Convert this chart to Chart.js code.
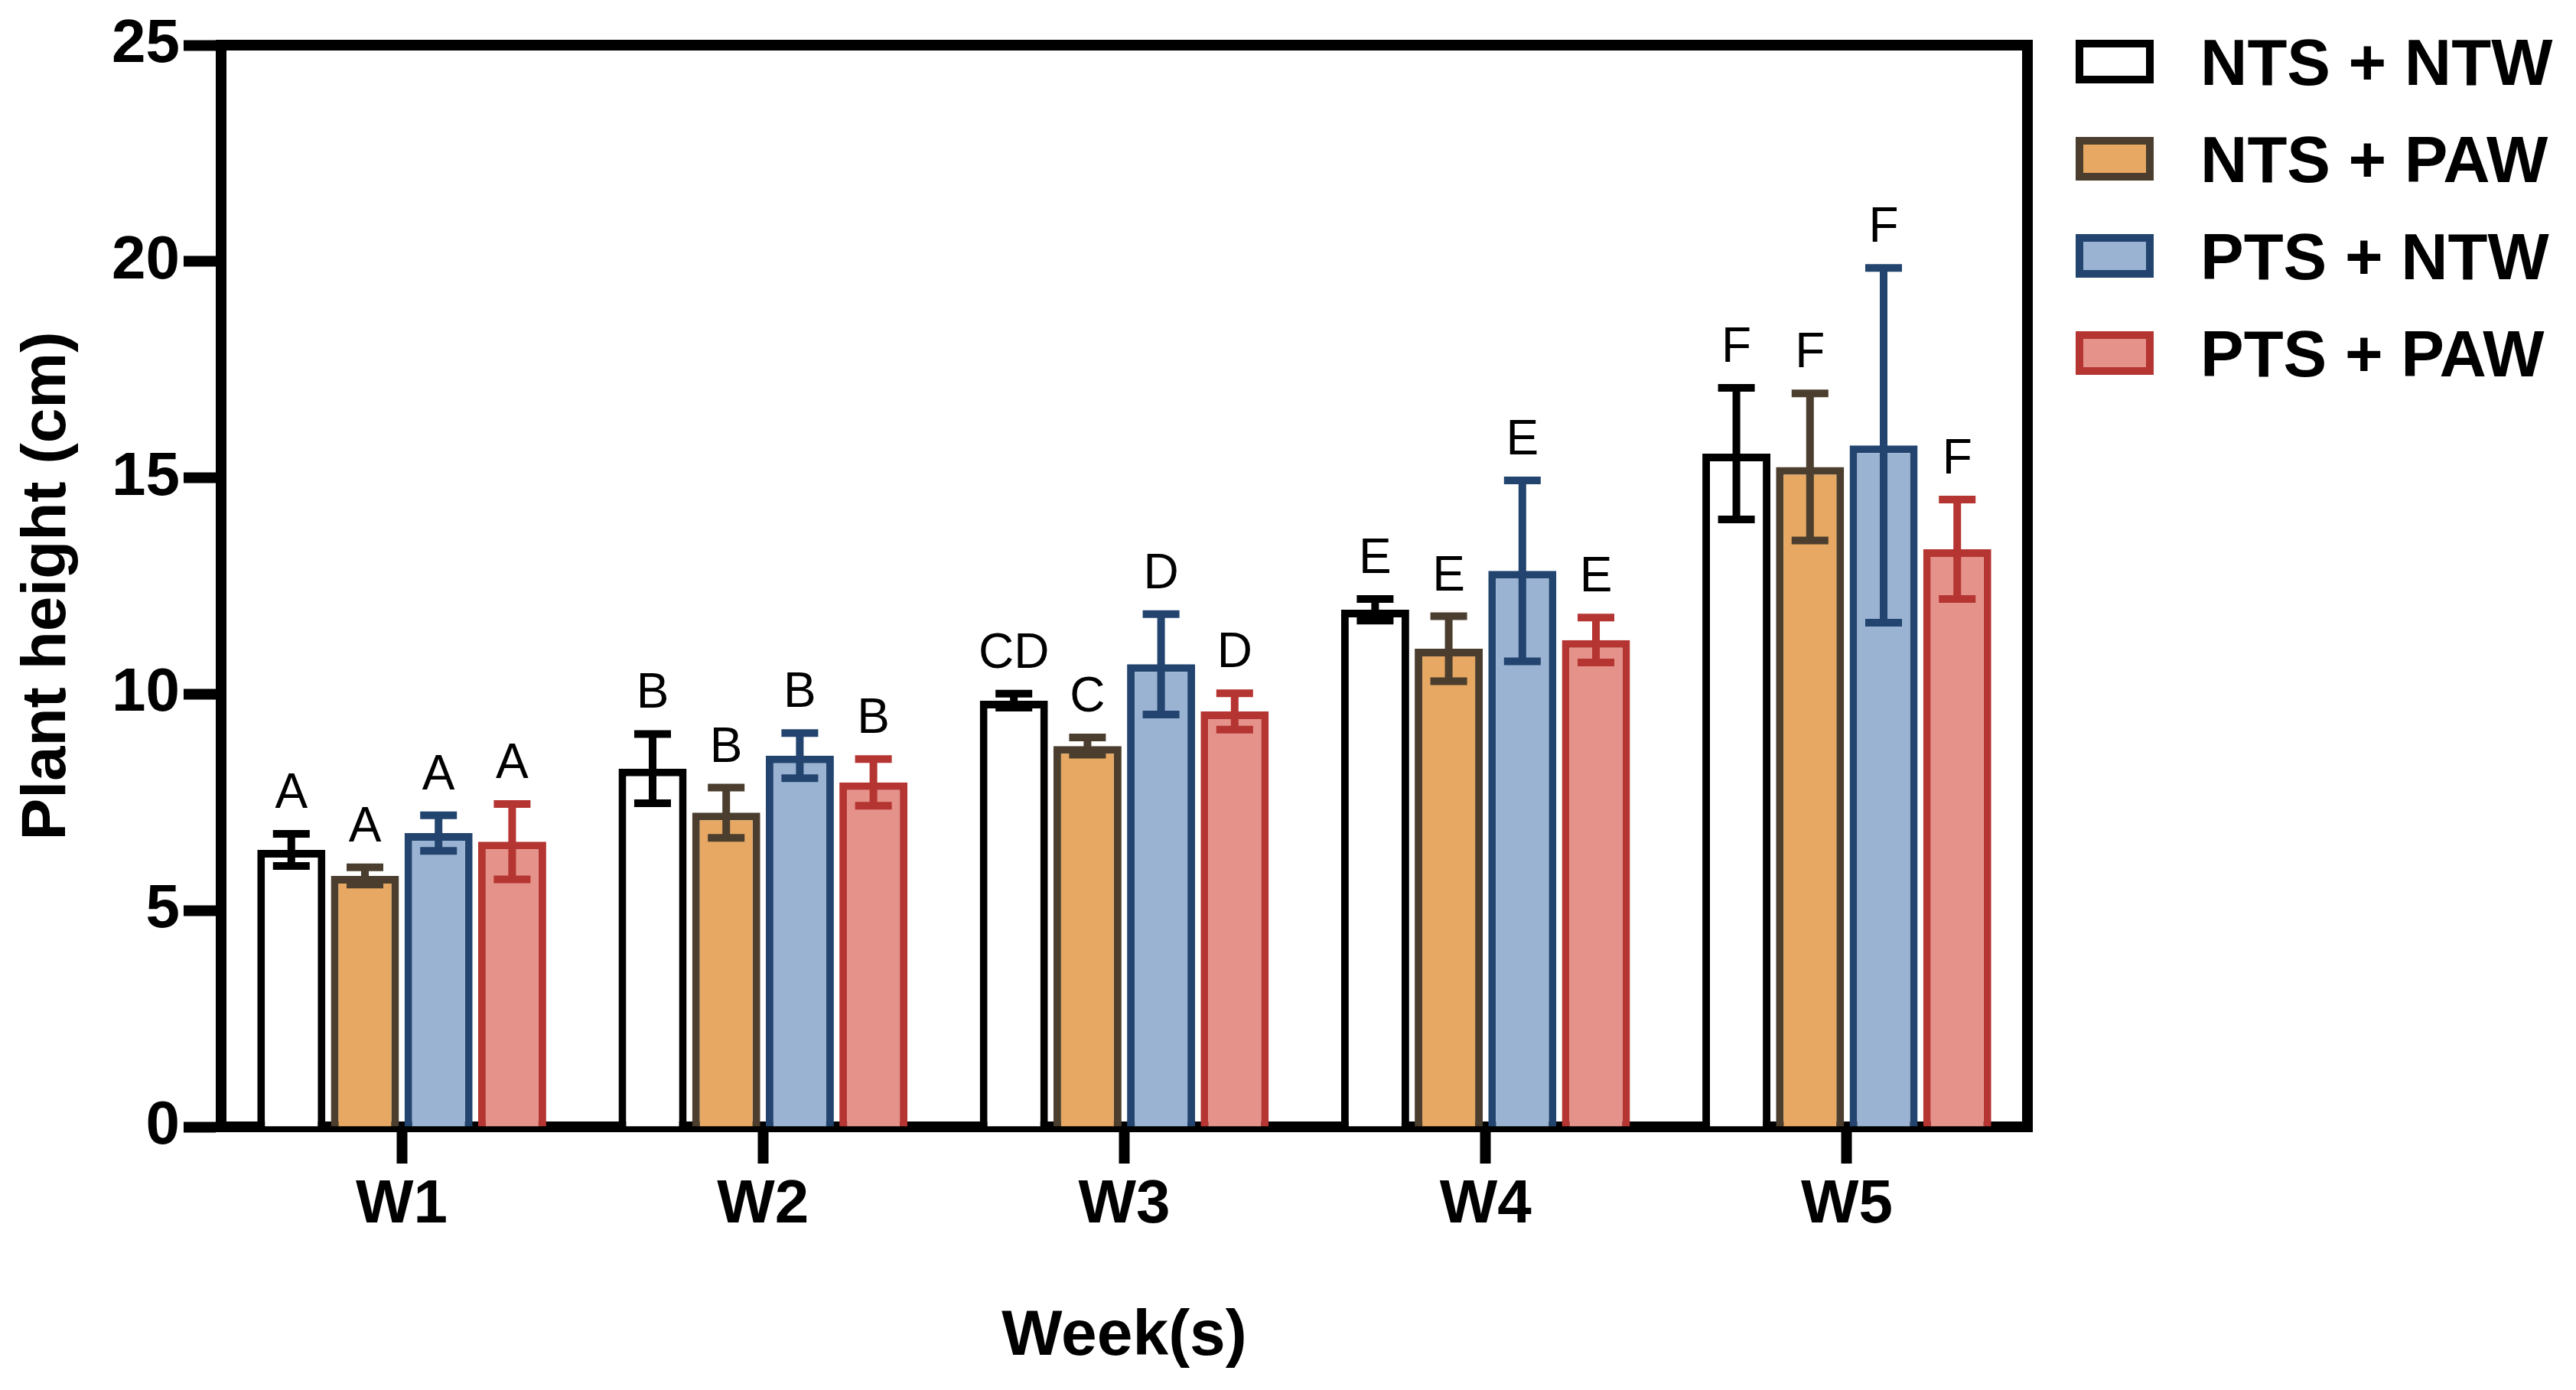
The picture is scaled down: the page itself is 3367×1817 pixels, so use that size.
<!DOCTYPE html>
<html>
<head>
<meta charset="utf-8">
<title>Plant height</title>
<script src="https://cdn.jsdelivr.net/npm/chart.js@4.4.1/dist/chart.umd.min.js"></script>
<style>
  html, body { margin: 0; padding: 0; background: #fff; }
  #wrap { width: 3367px; height: 1817px; position: relative; }
</style>
</head>
<body>
<div id="wrap"><canvas id="chart"></canvas></div>
<script>
// values (mean, SD and letter groups per treatment)
const weeks = ["W1", "W2", "W3", "W4", "W5"];
const seriesNames = ["NTS + NTW", "NTS + PAW", "PTS + NTW", "PTS + PAW"];

const ntsNtw = [6.40, 8.28, 9.85, 11.95, 15.56];
const ntsPaw = [5.80, 7.26, 8.80, 11.05, 15.25];
const ptsNtw = [6.79, 8.58, 10.69, 12.85, 15.75];
const ptsPaw = [6.59, 7.96, 9.60, 11.25, 13.35];

const ntsNtwSd = [0.37, 0.80, 0.16, 0.25, 1.52];
const ntsPawSd = [0.20, 0.58, 0.20, 0.75, 1.70];
const ptsNtwSd = [0.41, 0.52, 1.16, 2.09, 4.10];
const ptsPawSd = [0.87, 0.54, 0.42, 0.52, 1.15];

const ntsNtwLetters = ["A", "B", "CD", "E", "F"];
const ntsPawLetters = ["A", "B", "C", "E", "F"];
const ptsNtwLetters = ["A", "B", "D", "E", "F"];
const ptsPawLetters = ["A", "B", "D", "E", "F"];

const yTicks = [0, 5, 10, 15, 20, 25];

const FONT = "'Liberation Sans', Arial, Helvetica, sans-serif";
const fills = ["#ffffff", "#e6a862", "#9ab3d2", "#e5928b"];
const strokes = ["#000000", "#4b3e2e", "#22446e", "#b53532"];

const means = [ntsNtw, ntsPaw, ptsNtw, ptsPaw];
const sds = [ntsNtwSd, ntsPawSd, ptsNtwSd, ptsPawSd];
const letters = [ntsNtwLetters, ntsPawLetters, ptsNtwLetters, ptsPawLetters];

const datasets = seriesNames.map((name, i) => ({
  label: name,
  data: means[i],
  sd: sds[i],
  letters: letters[i],
  backgroundColor: fills[i],
  borderColor: strokes[i],
  borderWidth: 10,
  borderSkipped: "start",
  categoryPercentage: 0.815,
  barPercentage: 0.925,
}));

// error bars + significance letters, positioned through the y scale
const errorBars = {
  id: "errorBars",
  afterDatasetsDraw(chart) {
    const ctx = chart.ctx;
    const y = chart.scales.y;
    ctx.save();
    chart.data.datasets.forEach((ds, i) => {
      const meta = chart.getDatasetMeta(i);
      meta.data.forEach((bar, j) => {
        const m = ds.data[j], s = ds.sd[j];
        const yt = y.getPixelForValue(m + s);
        const yb = y.getPixelForValue(m - s);
        const x = bar.x;
        ctx.strokeStyle = ds.borderColor;
        ctx.lineWidth = 10;
        ctx.lineCap = "butt";
        ctx.beginPath();
        ctx.moveTo(x, yt);
        ctx.lineTo(x, yb);
        ctx.moveTo(x - 24, yt);
        ctx.lineTo(x + 24, yt);
        ctx.moveTo(x - 24, yb);
        ctx.lineTo(x + 24, yb);
        ctx.stroke();

        ctx.fillStyle = "#000";
        ctx.font = "64px " + FONT;
        ctx.textAlign = "center";
        ctx.textBaseline = "alphabetic";
        ctx.fillText(ds.letters[j], x, yt - 34);
      });
    });
    ctx.restore();
  },
};

// closes the frame on the top and right sides
const frame = {
  id: "frame",
  afterDraw(chart) {
    const { left, right, top, bottom } = chart.chartArea;
    const ctx = chart.ctx;
    ctx.save();
    ctx.strokeStyle = "#000";
    ctx.lineWidth = 14;
    ctx.beginPath();
    ctx.moveTo(left - 7, top);
    ctx.lineTo(right + 7, top);
    ctx.moveTo(right, top);
    ctx.lineTo(right, bottom + 7);
    ctx.stroke();
    ctx.restore();
  },
};

// legend on the right, swatches like the bars
const sideLegend = {
  id: "sideLegend",
  afterDraw(chart) {
    const ctx = chart.ctx;
    const bx = 2713, by = 52, bw = 102, bh = 57, row = 127;
    ctx.save();
    chart.data.datasets.forEach((ds, i) => {
      const top = by + i * row;
      ctx.fillStyle = ds.backgroundColor;
      ctx.fillRect(bx, top, bw, bh);
      ctx.strokeStyle = ds.borderColor;
      ctx.lineWidth = 10;
      ctx.strokeRect(bx + 5, top + 5, bw - 10, bh - 10);
      ctx.fillStyle = "#000";
      ctx.font = "bold 85px " + FONT;
      ctx.textAlign = "left";
      ctx.textBaseline = "alphabetic";
      ctx.fillText(ds.label, 2876, top + bh / 2 + 30.5);
    });
    ctx.restore();
  },
};

new Chart(document.getElementById("chart"), {
  type: "bar",
  data: { labels: weeks, datasets },
  plugins: [errorBars, frame, sideLegend],
  options: {
    responsive: true,
    maintainAspectRatio: false,
    devicePixelRatio: 1,
    animation: false,
    layout: { padding: { top: 59, right: 717, bottom: 0, left: 0 } },
    plugins: { legend: { display: false }, tooltip: { enabled: false } },
    scales: {
      x: {
        z: 1,
        afterFit: (s) => { s.height = 344; },
        grid: { offset: false, drawOnChartArea: false, drawTicks: true, tickLength: 48, tickWidth: 14, tickColor: "#000" },
        border: { display: true, width: 14, color: "#000" },
        ticks: { color: "#000", padding: 7, font: { family: FONT, size: 80, weight: "bold" } },
        title: {
          display: true,
          text: "Week(s)",
          color: "#000",
          padding: { top: 0, bottom: 19 },
          font: { family: FONT, size: 84, weight: "bold" },
        },
      },
      y: {
        z: 1,
        min: 0,
        max: 25,
        afterFit: (s) => { s.width = 289; },
        afterBuildTicks: (s) => { s.ticks = yTicks.map((v) => ({ value: v })); },
        grid: { drawOnChartArea: false, drawTicks: true, tickLength: 49, tickWidth: 14, tickColor: "#000" },
        border: { display: true, width: 14, color: "#000" },
        ticks: { color: "#000", padding: 5, font: { family: FONT, size: 80, weight: "bold" } },
        title: {
          display: true,
          text: "Plant height (cm)",
          color: "#000",
          padding: { top: 13, bottom: 0 },
          font: { family: FONT, size: 82, weight: "bold" },
        },
      },
    },
  },
});
</script>
</body>
</html>
